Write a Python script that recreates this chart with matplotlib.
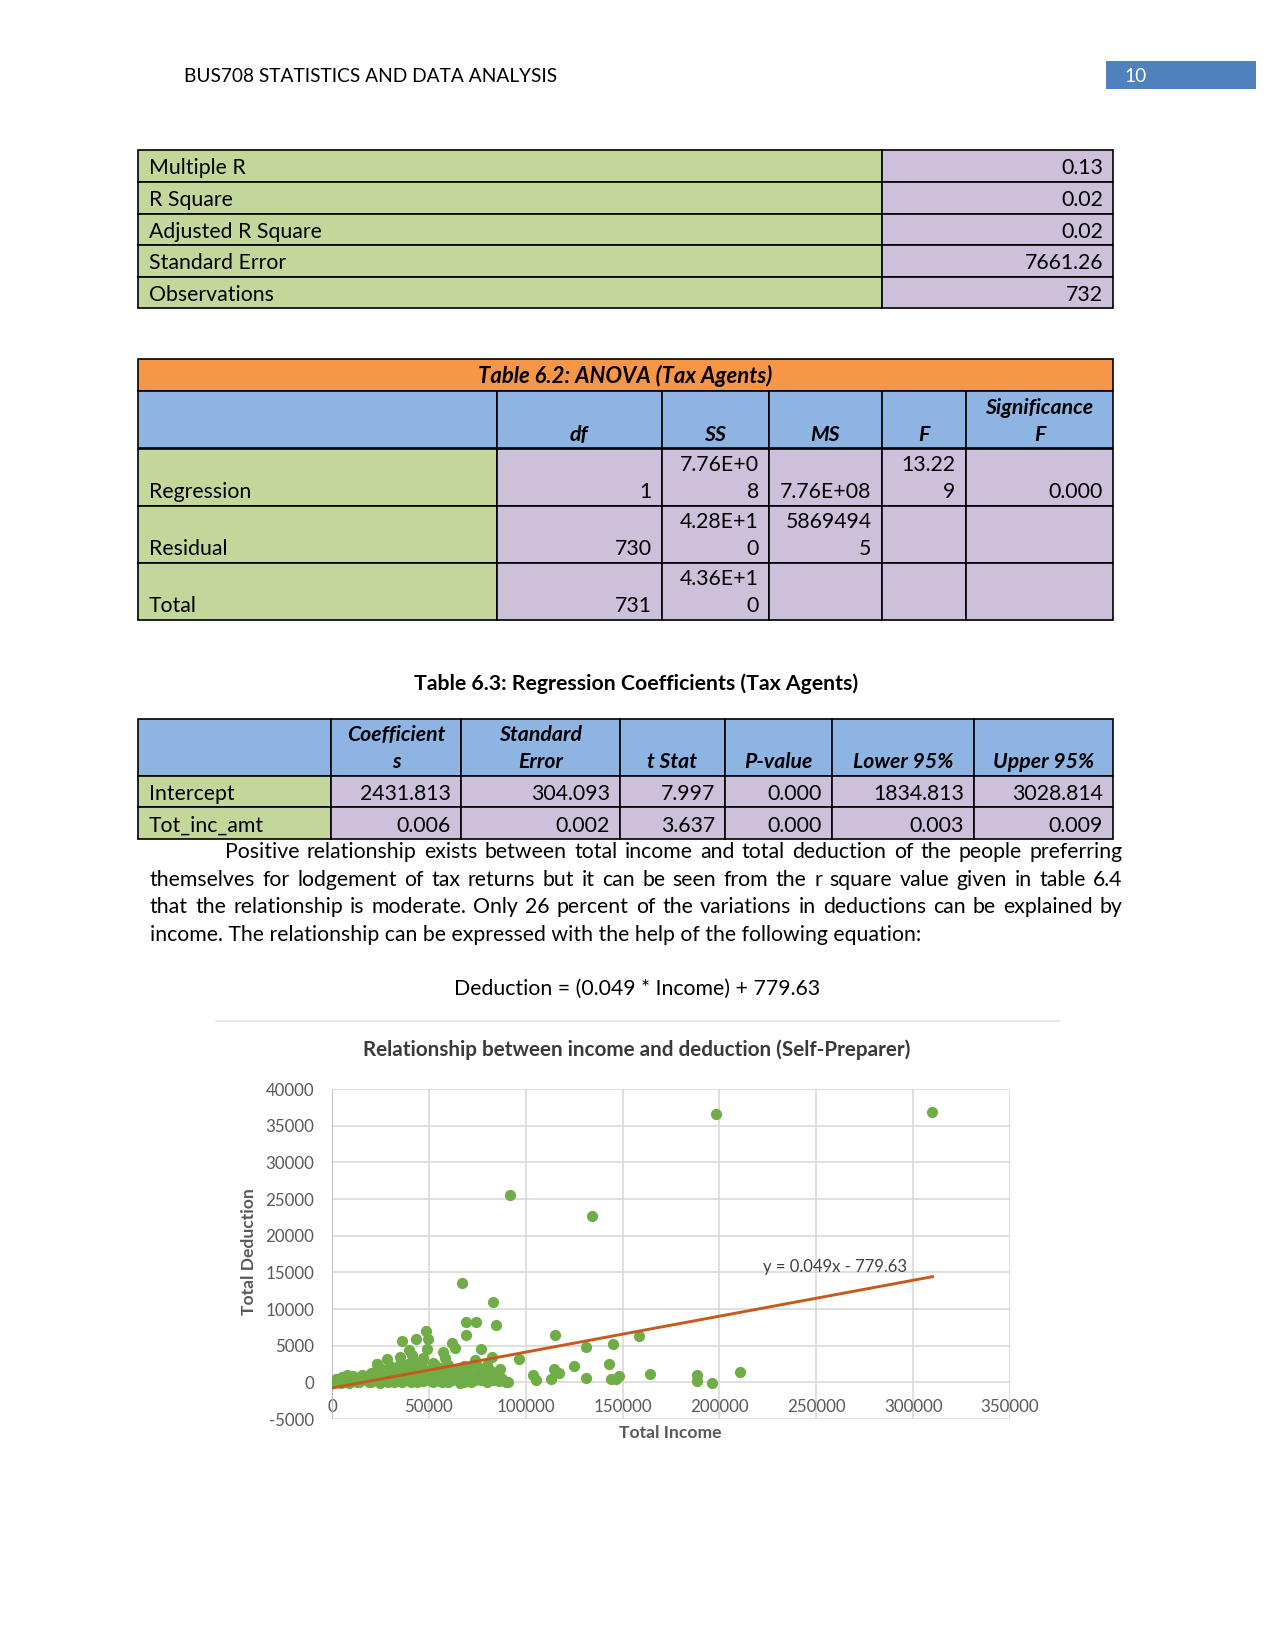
import matplotlib
matplotlib.use('Agg')
import numpy as np
import matplotlib.pyplot as plt
from matplotlib.patches import Rectangle

plt.rcParams['font.family'] = ['Lato', 'DejaVu Sans']

# ---- table contents ----
summary_labels = ['Multiple R', 'R Square', 'Adjusted R Square', 'Standard Error', 'Observations']
summary_values = ['0.13', '0.02', '0.02', '7661.26', '732']

anova_title = 'Table 6.2: ANOVA (Tax Agents)'
anova_cols = ['', 'df', 'SS', 'MS', 'F', 'Significance\nF']
anova_rows = ['Regression', 'Residual', 'Total']
anova_df = ['1', '730', '731']
anova_ss = ['7.76E+0\n8', '4.28E+1\n0', '4.36E+1\n0']
anova_ms = ['7.76E+08', '5869494\n5', '']
anova_f = ['13.22\n9', '', '']
anova_sig = ['0.000', '', '']

coef_title = 'Table 6.3: Regression Coefficients (Tax Agents)'
coef_cols = ['', 'Coefficient\ns', 'Standard\nError', 't Stat', 'P-value', 'Lower 95%', 'Upper 95%']
coef_rows = ['Intercept', 'Tot_inc_amt']
coef_intercept = ['2431.813', '304.093', '7.997', '0.000', '1834.813', '3028.814']
coef_income = ['0.006', '0.002', '3.637', '0.000', '0.003', '0.009']

paragraph = [
    'Positive relationship exists between total income and total deduction of the people preferring',
    'themselves for lodgement of tax returns but it can be seen from the r square value given in table 6.4',
    'that the relationship is moderate. Only 26 percent of the variations in deductions can be explained by',
    'income. The relationship can be expressed with the help of the following equation:',
]
equation = 'Deduction = (0.049 * Income) + 779.63'

# ---- scatter: self-preparer income vs deduction ----
income_main = [198000, 309800, 91900, 134000,
               66900, 82900, 69300, 74200, 84500, 69300, 48300, 49800, 43500, 36100,
               62000, 63400, 76700, 49000, 39700, 57400, 58200, 41200, 35000, 28200,
               23100, 25000, 39000, 41000, 82800, 96700, 73900, 74500, 86600, 82000, 78000,
               115000, 158700, 145000, 131200, 124800, 143200, 114800, 117300, 164300, 210800,
               103800, 105500, 113200, 131200, 144200, 148200, 146500, 188400, 188400, 196000,
               91000, 7600, 15500, 46500, 53000, 47000, 56000, 60000, 65000, 68000, 33000, 30000, 20000]
deduction_main = [36600, 36800, 25500, 22700,
                  13600, 11000, 8200, 8250, 7800, 6500, 7000, 5900, 5850, 5700,
                  5300, 4700, 4600, 4500, 4400, 4150, 3300, 3700, 3500, 3250,
                  2500, 2000, 2500, 2100, 3500, 3250, 3000, 2500, 1800, 1500, 1300,
                  6500, 6300, 5200, 4800, 2200, 2450, 1800, 1250, 1200, 1450,
                  950, 350, 450, 600, 400, 800, 450, 1000, 250, -100,
                  100, 1000, 950, 2800, 2300, 3300, 2000, 1800, 1600, 2200, 1800, 1400, 1300]

# dense band of small deductions
income_band = [0, 1500, 3000, 4500, 6000, 8000, 10000, 12000, 14000, 16000, 18000, 20000,
               22000, 24000, 26000, 28000, 30000, 32000, 34000, 36000, 38000, 40000,
               42000, 44000, 46000, 48000, 50000, 52000, 54000, 56000, 58000, 60000,
               62000, 64000, 66000, 68000, 70000, 72000, 74000, 76000, 78000, 80000,
               84000, 86000, 88000, 90000, 52000, 60000, 36000, 44000, 2000, 5000,
               9000, 25000, 66000, 72000, 79000, 83000, 85000,
               1000, 3500, 5500, 7000, 11000, 13000, 15000, 17000, 19000, 21000, 23000,
               27000, 29000, 31000, 33000, 35000, 37000, 39000, 41000, 43000, 45000, 47000,
               49000, 51000, 53000, 55000, 57000, 59000, 61000, 63000, 65000, 67000, 69000,
               71000, 73000, 75000, 77000, 81000, 87000]
deduction_band = [-100, 0, 150, -50, 300, 100, 400, 200, 50, 600, 300, 100,
                  700, 400, 200, 900, 500, 100, 1100, 700, 300, 1000,
                  500, 100, 1300, 800, 300, 1100, 600, 200, 1200, 700,
                  300, 1000, 500, 100, 1400, 800, 300, 1100, 500, 100,
                  700, 200, 400, 0, 0, 50, 50, 250, 500, 700,
                  -50, -50, -50, 50, 900, 300, 1200,
                  200, 400, 0, 600, 800, 0, 300, 900, 100, 500, 1000,
                  600, 0, 800, 200, 1300, 400, 900, 0, 700, 1500, 200,
                  600, 1000, 400, 800, 0, 900, 300, 1200, 700, 500, 900,
                  200, 600, 1000, 300, 800, 600]

# second band, 1500-3000
income_mid = [23000, 30000, 35000, 38000, 42000, 45000, 48000, 52000, 55000, 60000,
              64000, 70000, 76000, 80000]
deduction_mid = [2550, 2200, 2500, 1800, 2900, 2300, 1700, 2600, 1900, 2400,
                 1700, 2000, 1600, 2300]

trend_slope = 0.049
trend_intercept = -779.63
trend_x_end = 310000
trend_label = 'y = 0.049x - 779.63'

x_ticks = [0, 50000, 100000, 150000, 200000, 250000, 300000, 350000]
y_ticks = [-5000, 0, 5000, 10000, 15000, 20000, 25000, 30000, 35000, 40000]

GREEN = '#c4d79b'
PURPLE = '#ccc0da'
BLUE = '#8db4e2'
ORANGE = '#f79646'
FS = 10.2

fig = plt.figure(figsize=(8.5, 11), dpi=150)
page = fig.add_axes([0, 0, 1, 1])
page.set_xlim(0, 1275)
page.set_ylim(1650, 0)
page.axis('off')


def cell(x0, x1, y0, y1, color, text='', ha='right', weight='normal', style='normal'):
    page.add_patch(Rectangle((x0, y0), x1 - x0, y1 - y0, facecolor=color,
                             edgecolor='black', lw=0.8))
    if not text:
        return
    lines = text.split('\n')
    n = len(lines)
    x = {'left': x0 + 11, 'right': x1 - 10, 'center': (x0 + x1) / 2}[ha]
    for k, line in enumerate(lines):
        y = y1 - 7.5 - 27.4 * (n - 1 - k)
        page.text(x, y, line, ha=ha, va='baseline', fontsize=FS,
                  weight=weight, style=style)


# header
page.text(184, 82.5, 'BUS708 STATISTICS AND DATA ANALYSIS', fontsize=9.2, va='baseline')
page.add_patch(Rectangle((1106, 61), 150, 28, facecolor='#4f81bd', edgecolor='none'))
page.text(1124, 82.5, '10', fontsize=9.2, color='white', va='baseline')

# table 6.1 summary
t1_rows = [150.4, 182, 213.6, 245, 276.7, 308.3]
for i, (lab, val) in enumerate(zip(summary_labels, summary_values)):
    cell(138, 882, t1_rows[i], t1_rows[i + 1], GREEN, lab, 'left')
    cell(882, 1113, t1_rows[i], t1_rows[i + 1], PURPLE, val, 'right')

# table 6.2 anova
t2_cols = [138, 496.5, 661.7, 769, 881.6, 965.7, 1113]
cell(138, 1113, 358.5, 391.3, ORANGE)
page.text(625.5, 383.3, anova_title, ha='center', va='baseline', fontsize=FS + 0.4,
          weight='bold', style='italic')
for j, c in enumerate(anova_cols):
    cell(t2_cols[j], t2_cols[j + 1], 391.3, 448.5, BLUE, c, 'center', 'bold', 'italic')
t2_rows = [448.5, 505.5, 562.5, 619.5]
for i, lab in enumerate(anova_rows):
    vals = [anova_df[i], anova_ss[i], anova_ms[i], anova_f[i], anova_sig[i]]
    cell(t2_cols[0], t2_cols[1], t2_rows[i], t2_rows[i + 1], GREEN, lab, 'left')
    for j, v in enumerate(vals):
        cell(t2_cols[j + 1], t2_cols[j + 2], t2_rows[i], t2_rows[i + 1], PURPLE, v, 'right')

# table 6.3 coefficients
page.text(636.5, 690, coef_title, ha='center', va='baseline', fontsize=FS, weight='bold')
t3_cols = [138, 331.4, 460.8, 619.6, 724.8, 832.1, 974.2, 1113]
for j, c in enumerate(coef_cols):
    cell(t3_cols[j], t3_cols[j + 1], 719, 775.7, BLUE, c, 'center', 'bold', 'italic')
t3_rows = [775.7, 807, 839]
for i, (lab, vals) in enumerate(zip(coef_rows, [coef_intercept, coef_income])):
    cell(t3_cols[0], t3_cols[1], t3_rows[i], t3_rows[i + 1], GREEN, lab, 'left')
    for j, v in enumerate(vals):
        cell(t3_cols[j + 1], t3_cols[j + 2], t3_rows[i], t3_rows[i + 1], PURPLE, v, 'right')

# justified paragraph
renderer = fig.canvas.get_renderer()


def word_width(s):
    t = page.text(0, 0, s, fontsize=FS)
    w = t.get_window_extent(renderer).width
    t.remove()
    return w


line_y = [858.3, 885.8, 913.3, 940.6]
line_x0 = [225, 150, 150, 150]
for k, line in enumerate(paragraph):
    words = line.split()
    if k == len(paragraph) - 1:
        page.text(line_x0[k], line_y[k], line, fontsize=FS, va='baseline')
        continue
    widths = [word_width(w) for w in words]
    gap = (1122.5 - line_x0[k] - sum(widths)) / (len(words) - 1)
    x = line_x0[k]
    for w, wd in zip(words, widths):
        page.text(x, line_y[k], w, fontsize=FS, va='baseline')
        x += wd + gap

page.text(637, 995, equation, ha='center', va='baseline', fontsize=FS)

# chart frame and titles
page.plot([216, 1059], [1020.5, 1020.5], color='#e3e3e3', lw=0.8)
page.text(636.5, 1056, 'Relationship between income and deduction (Self-Preparer)',
          ha='center', va='baseline', fontsize=9.9, weight='bold', color='#3a3a3a')
page.text(249.5, 1252, 'Total Deduction', rotation=90, ha='center', va='center',
          fontsize=8.4, weight='bold', color='#595959')
page.text(670, 1433, 'Total Income', ha='center', va='center',
          fontsize=8.4, weight='bold', color='#595959')

ax = fig.add_axes([332 / 1275, 1 - 1419 / 1650, 678 / 1275, 330 / 1650])
ax.set_facecolor('none')
ax.set_xlim(0, 350000)
ax.set_ylim(-5000, 40000)
ax.set_xticks(x_ticks)
ax.set_yticks(y_ticks)
ax.set_xticklabels([str(v) for v in x_ticks])
ax.set_yticklabels([str(v) for v in y_ticks])
ax.grid(True, color='#d9d9d9', lw=0.8)
ax.set_axisbelow(True)
for s in ax.spines.values():
    s.set_visible(False)
ax.spines['bottom'].set_position(('data', 0))
ax.tick_params(length=0, labelsize=8.1, labelcolor='#595959')
ax.tick_params(axis='y', pad=8.4)
ax.tick_params(axis='x', pad=8.2)
ax.axvline(0, color='#bfbfbf', lw=0.9, zorder=1)

income = income_main + income_band + income_mid
deduction = deduction_main + deduction_band + deduction_mid
ax.scatter(income, deduction, s=29, color='#70ad47', zorder=3, linewidths=0)
tx = np.array([0, trend_x_end])
ax.plot(tx, trend_slope * tx + trend_intercept, color='#c65a1e', lw=1.4, zorder=4)
ax.text(259800, 15770, trend_label, ha='center', va='center', fontsize=8, color='#404040')

fig.savefig('out.png', dpi=150)
